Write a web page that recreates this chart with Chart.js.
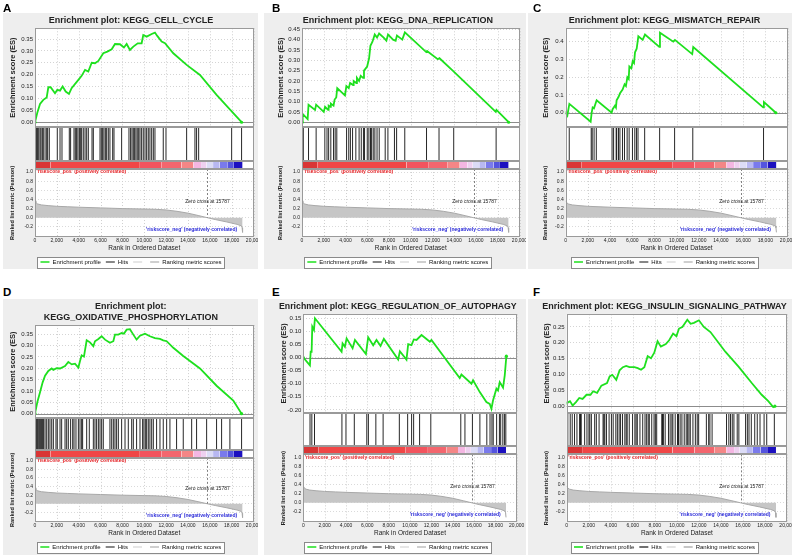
<!DOCTYPE html>
<html lang="en">
<head>
<meta charset="UTF-8">
<title>GSEA enrichment plots</title>
<script src="https://cdn.jsdelivr.net/npm/chart.js@4.4.1/dist/chart.umd.min.js"></script>
<style>
  html, body { margin: 0; padding: 0; background: #fff; }
  body { width: 792px; height: 556px; position: relative; overflow: hidden; }
  canvas { position: absolute; display: block; }
  .tag { position: absolute; z-index: 2; font: bold 11.5px "Liberation Sans", Arial, sans-serif; line-height: 1; color: #000; }
</style>
</head>
<body>
<canvas id="cA" width="255" height="256" style="left:3px;top:13px"></canvas>
<canvas id="cB" width="262" height="256" style="left:264px;top:13px"></canvas>
<canvas id="cC" width="264" height="256" style="left:528px;top:13px"></canvas>
<canvas id="cD" width="255" height="256" style="left:3px;top:299px"></canvas>
<canvas id="cE" width="262" height="256" style="left:264px;top:299px"></canvas>
<canvas id="cF" width="264" height="256" style="left:528px;top:299px"></canvas>
<div class="tag" style="left:3px;top:2.7px">A</div>
<div class="tag" style="left:272px;top:2.7px">B</div>
<div class="tag" style="left:533px;top:2.7px">C</div>
<div class="tag" style="left:3px;top:286.7px">D</div>
<div class="tag" style="left:272px;top:286.7px">E</div>
<div class="tag" style="left:533px;top:286.7px">F</div>

<script>
// ---- shared ranked list ----
const xTicks = [0, 2000, 4000, 6000, 8000, 10000, 12000, 14000, 16000, 18000, 20000];
const metricTicks = [-0.2, 0, 0.2, 0.4, 0.6, 0.8, 1.0];
const metricRanks = [0, 80, 250, 600, 1200, 2000, 3000, 4000, 6000, 8000, 10000, 11000, 12000, 13000, 14000, 15000, 15787, 16500, 17500, 18500, 18900, 18960, 19000];
const metricValues = [0.37, 0.33, 0.3, 0.28, 0.265, 0.25, 0.24, 0.23, 0.215, 0.2, 0.19, 0.185, 0.17, 0.14, 0.1, 0.045, 0, -0.04, -0.09, -0.145, -0.18, -0.22, -0.32];
const zeroCross = 15787;
// colour bar blocks (rank edges) and their shades
const barEdges = [0, 1400, 9600, 11600, 13400, 14500, 15200, 15700, 16300, 16900, 17600, 18200, 19000];
const barShades = ['#d93535', '#f04646', '#f2545e', '#f3666e', '#f48686', '#f4b6e2', '#eed0f0', '#dcdcf6', '#b8b8f2', '#7a7aec', '#5454de', '#1c10c0'];
const legendLabels = ['Enrichment profile', 'Hits', '', 'Ranking metric scores'];

// ---- A: KEGG_CELL_CYCLE ----
const esCellCycle = [[0,0],[210,0.04],[460,0.077],[760,0.094],[1070,0.104],[1220,0.147],[1430,0.147],[1830,0.122],[2040,0.136],[2290,0.133],[2530,0.15],[2810,0.129],[3110,0.119],[3350,0.143],[3970,0.178],[4270,0.195],[4580,0.22],[4880,0.213],[5190,0.25],[5490,0.248],[5800,0.258],[6250,0.29],[6620,0.297],[7020,0.307],[7320,0.329],[7780,0.328],[8140,0.314],[8390,0.329],[8690,0.304],[9000,0.318],[9400,0.332],[9760,0.332],[9910,0.367],[10220,0.36],[10680,0.371],[10980,0.377],[11190,0.363],[11590,0.339],[11900,0.332],[12660,0.29],[13880,0.241],[15100,0.199],[16620,0.115],[18150,0.038],[18910,0]];
const hitsCellCycle = [60,150,240,340,460,550,670,760,920,1070,1160,1310,2040,2290,2470,3140,3260,3570,3690,3810,3930,4060,4150,4270,4420,4580,4730,4880,5220,5340,5950,6070,6190,6310,6440,6560,6710,6860,7110,7230,7930,8600,8750,8880,9000,9120,9240,9360,9490,9610,9760,9910,10070,10220,10370,10520,10680,10830,10980,11740,11990,13880,14640,14790,14980,18000,18910];
const esTicksA = [0, 0.05, 0.1, 0.15, 0.2, 0.25, 0.3, 0.35];

// ---- B: KEGG_DNA_REPLICATION ----
const esDnaReplication = [[0,0],[60,0.04],[520,0.015],[600,0.085],[1200,0.06],[1300,0.085],[2000,0.05],[2120,0.075],[2400,0.06],[2450,0.08],[2600,0.075],[2650,0.09],[2900,0.08],[3000,0.11],[3150,0.12],[3240,0.165],[3950,0.13],[4080,0.175],[4300,0.165],[4420,0.19],[4700,0.18],[4750,0.2],[5000,0.19],[5050,0.215],[5250,0.2],[5400,0.225],[5620,0.215],[5700,0.25],[5990,0.27],[6170,0.31],[6290,0.37],[6480,0.39],[6690,0.425],[6900,0.41],[7090,0.43],[7510,0.41],[7760,0.395],[7910,0.425],[8370,0.4],[8610,0.395],[8730,0.42],[9220,0.4],[9460,0.435],[11420,0.34],[11500,0.345],[12480,0.305],[12640,0.31],[13860,0.25],[17820,0.05],[17880,0.06],[19000,0]];
const hitsDnaReplication = [120,600,1300,2100,2300,2450,2650,2900,3050,3200,4100,4300,4450,4650,4950,5250,5450,5650,5750,6000,6150,6300,6400,6550,6700,6900,7100,7650,7900,8500,8700,9450,11450,12600,13950,17850];
const esTicksB = [0, 0.05, 0.1, 0.15, 0.2, 0.25, 0.3, 0.35, 0.4, 0.45];

// ---- C: KEGG_MISMATCH_REPAIR ----
const esMismatchRepair = [[0,0],[150,-0.015],[330,0.05],[2250,-0.05],[2340,0],[2430,0.03],[2550,0.025],[2790,0.07],[4140,0],[4230,0.02],[4440,0.04],[4530,0.03],[4590,0.07],[4770,0.09],[4900,0.11],[5130,0.13],[5310,0.16],[5430,0.15],[5560,0.2],[5680,0.19],[5740,0.26],[5920,0.25],[6040,0.29],[6160,0.28],[6250,0.34],[6400,0.36],[6550,0.43],[6940,0.41],[7150,0.44],[8440,0.37],[8500,0.45],[9700,0.4],[9850,0.41],[11410,0.33],[11500,0.37],[17810,0.03],[17870,0.06],[18950,0]];
const hitsMismatchRepair = [320,2300,2390,2560,2760,4180,4320,4550,4600,4760,4890,5120,5300,5540,5720,6020,6230,6380,6520,7120,8470,9820,11460,17840];
const esTicksC = [0, 0.1, 0.2, 0.3, 0.4];

// ---- D: KEGG_OXIDATIVE_PHOSPHORYLATION ----
const esOxPhos = [[0,0],[210,0.05],[460,0.094],[700,0.138],[920,0.167],[1220,0.188],[1530,0.199],[1680,0.193],[1980,0.2],[2290,0.199],[2750,0.21],[3050,0.228],[3360,0.217],[3660,0.22],[3970,0.203],[4120,0.232],[4270,0.257],[4480,0.251],[4730,0.323],[5030,0.314],[5340,0.297],[5490,0.319],[5800,0.329],[6100,0.341],[6410,0.326],[6860,0.312],[7170,0.319],[7320,0.348],[7630,0.348],[7930,0.355],[8140,0.352],[8390,0.37],[8690,0.372],[9000,0.348],[9300,0.326],[9610,0.343],[10070,0.352],[10520,0.341],[10980,0.333],[11440,0.329],[11740,0.323],[12050,0.319],[12660,0.29],[13570,0.254],[15100,0.199],[16620,0.123],[18150,0.058],[18910,0]];
const hitsOxPhos = [60,150,240,340,430,520,610,700,790,920,1070,1220,1370,1530,1680,1920,2040,2290,2440,2750,2900,3050,3260,3450,3570,3750,3970,4120,4270,4360,4730,4970,5340,5490,5640,5800,5950,6100,6250,6860,7020,7170,7320,7470,7630,7930,8240,8540,8850,9000,9300,9610,9850,9970,10100,10220,10370,10520,10680,10830,11130,11440,11740,12050,12350,12960,13570,14340,14790,15710,16620,17080,17840,18910];
const esTicksD = [0, 0.05, 0.1, 0.15, 0.2, 0.25, 0.3, 0.35];

// ---- E: KEGG_REGULATION_OF_AUTOPHAGY ----
const esAutophagy = [[0,0],[620,-0.03],[690,0.022],[780,0.022],[840,0.118],[1000,0.105],[1090,0.15],[3590,0.022],[3680,0.054],[3900,0.041],[4060,0.073],[4620,0.035],[4840,0.067],[5870,0.013],[6080,0.077],[6550,0.047],[6860,0.067],[7240,0.044],[7550,0.071],[8890,-0.008],[9050,0.024],[9670,-0.008],[9830,0.051],[10140,0.047],[10360,0.069],[10610,0.067],[11080,0.086],[11860,0.06],[12010,0.067],[14660,-0.078],[14820,-0.065],[15760,-0.1],[15910,-0.087],[16540,-0.132],[17160,-0.17],[17470,-0.177],[17630,-0.196],[17780,-0.164],[18100,-0.119],[18250,-0.126],[18410,-0.094],[18720,-0.115],[18880,-0.068],[19030,0.005]];
const hitsAutophagy = [630,800,1050,3620,4000,4780,5950,6100,6800,7480,9000,9780,10150,10340,10900,11950,14760,15150,15850,16550,17200,17500,17680,17800,18120,18380,18500,18700,18850,18980];
const esTicksE = [-0.2, -0.15, -0.1, -0.05, 0, 0.05, 0.1, 0.15];

// ---- F: KEGG_INSULIN_SIGNALING_PATHWAY ----
const esInsulin = [[0,0.01],[300,0.016],[540,0.002],[840,0.013],[1140,0.026],[1440,0.023],[1800,0.036],[2160,0.036],[2400,0.047],[2760,0.042],[3150,0.065],[3660,0.073],[3900,0.094],[4140,0.099],[4500,0.083],[4800,0.113],[5100,0.123],[5400,0.127],[5700,0.123],[6150,0.123],[6450,0.12],[6750,0.115],[7050,0.123],[7350,0.158],[7650,0.151],[7950,0.169],[8250,0.205],[8550,0.188],[9000,0.196],[9300,0.208],[9660,0.229],[9960,0.221],[10200,0.245],[10500,0.25],[10950,0.273],[11250,0.26],[11550,0.263],[12000,0.271],[12450,0.25],[13050,0.234],[14400,0.172],[15600,0.125],[16800,0.073],[17700,0.036],[18300,0.016],[18750,-0.003],[18900,0]];
const hitsInsulin = [100,320,500,710,930,1170,1250,1320,1630,1840,2020,2100,2240,2540,2690,2940,3300,3380,3460,3610,3850,4060,4220,4460,4600,4760,4890,5070,5280,5400,5490,5680,5980,6190,6300,6410,6650,6900,7110,7260,7400,7500,7720,7930,8050,8170,8630,8700,8780,8940,9240,9390,9550,9640,9850,10060,10150,10300,10460,10670,10850,10980,11100,11220,11460,11680,11850,11980,12680,12890,13000,13200,14510,14720,14870,15030,15180,15480,15630,16240,16400,16550,16760,17070,17300,17550,17920,18160,18850];
const esTicksF = [0, 0.05, 0.1, 0.15, 0.2, 0.25];

// ---- styling ----
const FONT = '"Liberation Sans", Arial, sans-serif';
const GREEN = '#1ee01e';
const PANELS = ['es', 'hits', 'bar', 'metric'];
const legendColors = [GREEN, '#111111', '#dedede', '#a0a0a0'];
const legendWidths = [1.6, 1.2, 1.6, 1.2];
Chart.defaults.font.family = FONT;
Chart.defaults.color = '#222';

function legendBox(chart) {
  const hb = chart.legend && chart.legend.legendHitBoxes;
  if (!hb || !hb.length) return null;
  const l = Math.min(...hb.map(b => b.left)), r = Math.max(...hb.map(b => b.left + b.width));
  const t = Math.min(...hb.map(b => b.top)), bt = Math.max(...hb.map(b => b.top + b.height));
  return {x: Math.round(l - 3) + 0.5, y: Math.round(t - 2.5) + 0.5, w: Math.round(r - l + 6), h: Math.round(bt - t + 5)};
}

const gseaPlugin = {
  id: 'gsea',
  beforeDraw(chart) {
    const {ctx, chartArea: a, scales} = chart;
    ctx.save();
    ctx.fillStyle = '#eeeeee';
    ctx.fillRect(0, 0, chart.width, chart.height);
    ctx.fillStyle = '#ffffff';
    for (const id of PANELS) {
      const s = scales[id];
      ctx.fillRect(a.left, s.top, a.right - a.left, s.bottom - s.top);
    }
    const box = legendBox(chart);
    if (box) ctx.fillRect(box.x, box.y, box.w, box.h);
    ctx.restore();
  },
  beforeDatasetsDraw(chart) {
    const {ctx, chartArea: a, scales: {x, es, metric}} = chart;
    ctx.save();
    ctx.strokeStyle = '#cfcfcf';
    ctx.lineWidth = 1;
    ctx.setLineDash([1, 2]);
    for (const t of x.ticks) {
      const px = Math.round(x.getPixelForValue(t.value)) + 0.5;
      for (const s of [es, metric]) {
        ctx.beginPath(); ctx.moveTo(px, s.top); ctx.lineTo(px, s.bottom); ctx.stroke();
      }
    }
    ctx.setLineDash([]);
    ctx.strokeStyle = '#8c8c8c';
    const y0 = Math.round(es.getPixelForValue(0)) + 0.5;
    ctx.beginPath(); ctx.moveTo(a.left, y0); ctx.lineTo(a.right, y0); ctx.stroke();
    ctx.restore();
  },
  afterDatasetsDraw(chart) {
    const {ctx, chartArea: a, scales: {x, metric}} = chart;
    const zx = Math.round(x.getPixelForValue(zeroCross)) + 0.5;
    ctx.save();
    ctx.strokeStyle = '#808080';
    ctx.lineWidth = 1;
    ctx.setLineDash([2, 2]);
    ctx.beginPath(); ctx.moveTo(zx, metric.top); ctx.lineTo(zx, metric.getPixelForValue(0)); ctx.stroke();
    ctx.setLineDash([]);
    ctx.font = '5px ' + FONT;
    ctx.textBaseline = 'middle';
    ctx.fillStyle = '#222';
    ctx.textAlign = 'center';
    ctx.fillText('Zero cross at ' + zeroCross, zx, metric.getPixelForValue(0.35));
    ctx.font = 'bold 5px ' + FONT;
    ctx.fillStyle = '#e8282c';
    ctx.textAlign = 'left';
    ctx.fillText("'riskscore_pos' (positively correlated)", a.left + 1.5, metric.getPixelForValue(1.0));
    ctx.fillStyle = '#2a2ad8';
    ctx.textAlign = 'right';
    ctx.fillText("'riskscore_neg' (negatively correlated)", x.getPixelForValue(18500), metric.getPixelForValue(-0.27));
    ctx.restore();
  },
  afterDraw(chart) {
    const {ctx, chartArea: a, scales} = chart;
    ctx.save();
    ctx.strokeStyle = '#9a9a9a';
    ctx.lineWidth = 1;
    const l = Math.round(a.left) + 0.5, r = Math.round(a.right) - 0.5;
    for (const id of PANELS) {
      const s = scales[id];
      const t = Math.round(s.top) + 0.5, b = Math.round(s.bottom) - 0.5;
      ctx.strokeRect(l, t, r - l, b - t);
    }
    const box = legendBox(chart);
    if (box) { ctx.strokeStyle = '#8a8a8a'; ctx.strokeRect(box.x, box.y, box.w, box.h); }
    ctx.restore();
  }
};

function makePanel(p) {
  const colorBar = barShades.map((c, i) => ({
    label: 'bar' + i,
    data: [{x: barEdges[i], y: 1}, {x: barEdges[i + 1], y: 1}],
    yAxisID: 'bar',
    borderColor: 'transparent',
    borderWidth: 0,
    backgroundColor: c,
    pointRadius: 0,
    fill: 'origin'
  }));
  const datasets = [
    {
      label: 'Enrichment profile',
      data: p.es,
      yAxisID: 'es',
      borderColor: GREEN,
      borderWidth: 1.8,
      pointRadius: ctx => (ctx.dataIndex === 0 || ctx.dataIndex === p.es.length - 1) ? 1.6 : 0,
      pointBackgroundColor: GREEN,
      pointBorderWidth: 0,
      fill: false
    },
    {
      label: 'Hits',
      data: p.hits.flatMap(h => [{x: h, y: 0}, {x: h, y: 1}, {x: h, y: null}]),
      yAxisID: 'hits',
      borderColor: 'rgba(0,0,0,0.85)',
      borderWidth: 1,
      pointRadius: 0,
      spanGaps: false,
      fill: false
    },
    {
      label: 'Ranking metric scores',
      data: metricRanks.map((r, i) => ({x: r, y: metricValues[i]})),
      yAxisID: 'metric',
      borderColor: '#a8a8a8',
      borderWidth: 1,
      backgroundColor: '#c6c6c6',
      pointRadius: 0,
      fill: 'origin'
    },
    ...colorBar
  ];

  const yFit = s => { s.width = p.yw; s.paddingTop = 0; s.paddingBottom = 0; };
  const hidden = {display: false};

  new Chart(document.getElementById(p.id), {
    type: 'line',
    data: {datasets},
    plugins: [gseaPlugin],
    options: {
      responsive: false,
      maintainAspectRatio: false,
      animation: false,
      events: [],
      layout: {padding: {left: p.pad[0], right: p.pad[1], top: 0, bottom: p.pad[2]}},
      plugins: {
        tooltip: {enabled: false},
        title: {
          display: true,
          text: p.title,
          color: '#222',
          font: {size: 9, weight: 'bold', lineHeight: 1.2},
          padding: {top: 2.3, bottom: 2.2}
        },
        legend: {
          position: 'bottom',
          maxHeight: 15,
          labels: {
            usePointStyle: true,
            pointStyleWidth: 9,
            padding: 5,
            color: '#111',
            font: {size: 6},
            generateLabels: () => legendLabels.map((t, i) => ({
              text: t,
              strokeStyle: legendColors[i],
              fillStyle: legendColors[i],
              lineWidth: legendWidths[i],
              pointStyle: 'line',
              hidden: false,
              fontColor: '#111'
            }))
          }
        }
      },
      scales: {
        x: {
          type: 'linear',
          position: 'bottom',
          min: 0,
          max: 20000,
          afterBuildTicks: s => { s.ticks = xTicks.map(v => ({value: v})); },
          afterFit: s => { s.height = 17.3; s.paddingLeft = 0; s.paddingRight = 0; },
          grid: {display: false, drawTicks: false},
          border: hidden,
          ticks: {font: {size: 5}, padding: 0.8, autoSkip: false, maxRotation: 0, color: '#222',
                  callback: v => v.toLocaleString('en-US')},
          title: {display: true, text: 'Rank in Ordered Dataset', font: {size: 6.5}, color: '#222', padding: {top: 0, bottom: 1.8}}
        },
        es: {
          type: 'linear',
          position: 'left',
          stack: 'gsea',
          stackWeight: 0.474,
          weight: 3,
          min: p.esMin,
          max: p.esMax,
          afterBuildTicks: s => { s.ticks = p.esTicks.map(v => ({value: v})); },
          afterFit: yFit,
          grid: {color: '#d4d4d4', drawTicks: false},
          border: {display: false, dash: [1, 2]},
          ticks: {font: {size: 6}, padding: 2, autoSkip: false, color: '#222', callback: v => v.toFixed(p.dec)},
          title: {display: true, text: 'Enrichment score (ES)', font: {size: 7.5, weight: 'bold'}, color: '#222', padding: 0}
        },
        hits: {
          type: 'linear',
          position: 'left',
          stack: 'gsea',
          stackWeight: 0.161,
          weight: 2,
          min: 0,
          max: 1,
          afterFit: yFit,
          grid: hidden,
          border: hidden,
          ticks: hidden
        },
        bar: {
          type: 'linear',
          position: 'left',
          stack: 'gsea',
          stackWeight: 0.041,
          weight: 1,
          min: 0,
          max: 1,
          afterFit: yFit,
          grid: hidden,
          border: hidden,
          ticks: hidden
        },
        metric: {
          type: 'linear',
          position: 'left',
          stack: 'gsea',
          stackWeight: 0.325,
          weight: 0,
          min: -0.415,
          max: 1.065,
          afterBuildTicks: s => { s.ticks = metricTicks.map(v => ({value: v})); },
          afterFit: yFit,
          grid: {color: '#dadada', drawTicks: false},
          border: {display: false, dash: [1, 2]},
          ticks: {font: {size: 5}, padding: 2, autoSkip: false, color: '#222', callback: v => v.toFixed(1)},
          title: {display: true, text: 'Ranked list metric (Pearson)', font: {size: 5.5, weight: 'bold'}, color: '#222', padding: {top: 1, bottom: 0}}
        }
      }
    }
  });
}

const panelList = [
  {id: 'cA', title: 'Enrichment plot: KEGG_CELL_CYCLE', es: esCellCycle, hits: hitsCellCycle, esMin: -0.02, esMax: 0.395, esTicks: esTicksA, dec: 2, pad: [5.5, 4.5, 0], yw: 26.5},
  {id: 'cB', title: 'Enrichment plot: KEGG_DNA_REPLICATION', es: esDnaReplication, hits: hitsDnaReplication, esMin: -0.023, esMax: 0.455, esTicks: esTicksB, dec: 2, pad: [12.2, 6.5, 0], yw: 25.8},
  {id: 'cC', title: 'Enrichment plot: KEGG_MISMATCH_REPAIR', es: esMismatchRepair, hits: hitsMismatchRepair, esMin: -0.08, esMax: 0.475, esTicks: esTicksC, dec: 1, pad: [13.5, 4.5, 0], yw: 24.2},
  {id: 'cD', title: ['Enrichment plot:', 'KEGG_OXIDATIVE_PHOSPHORYLATION'], es: esOxPhos, hits: hitsOxPhos, esMin: -0.02, esMax: 0.39, esTicks: esTicksD, dec: 2, pad: [5.2, 4.5, 1], yw: 26.8},
  {id: 'cE', title: 'Enrichment plot: KEGG_REGULATION_OF_AUTOPHAGY', es: esAutophagy, hits: hitsAutophagy, esMin: -0.21, esMax: 0.165, esTicks: esTicksE, dec: 2, pad: [15, 9.3, 1], yw: 24.3},
  {id: 'cF', title: 'Enrichment plot: KEGG_INSULIN_SIGNALING_PATHWAY', es: esInsulin, hits: hitsInsulin, esMin: -0.02, esMax: 0.29, esTicks: esTicksF, dec: 2, pad: [14, 5, 1], yw: 24.7}
];
panelList.forEach(makePanel);
</script>
</body>
</html>
